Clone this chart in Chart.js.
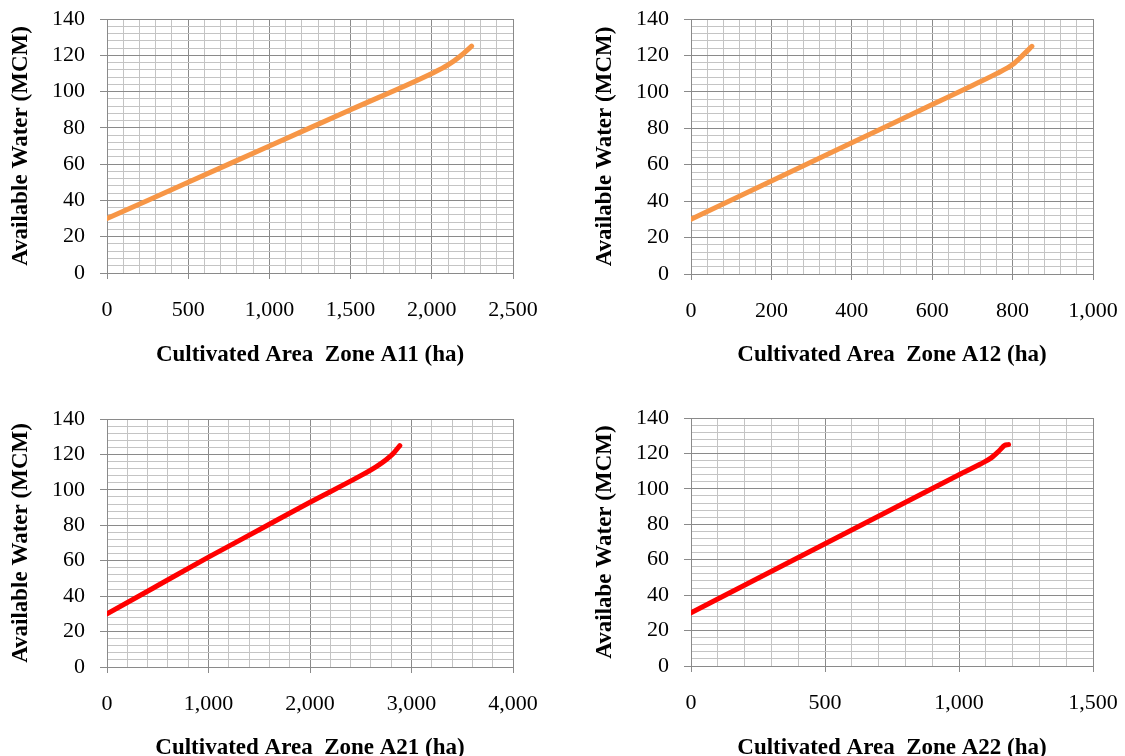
<!DOCTYPE html>
<html>
<head>
<meta charset="utf-8">
<script src="https://cdn.jsdelivr.net/npm/chart.js@4/dist/chart.umd.min.js"></script>
<style>
  html, body { margin: 0; padding: 0; background: #fff; overflow: hidden; }
  body { width: 1125px; height: 756px; position: relative; }
  canvas { position: absolute; }
</style>
</head>
<body>
<canvas id="a11" width="560" height="398" style="left:0;top:-20px"></canvas>
<canvas id="a12" width="560" height="398" style="left:584px;top:-20px"></canvas>
<canvas id="a21" width="560" height="400" style="left:0;top:378px"></canvas>
<canvas id="a22" width="560" height="400" style="left:584px;top:378px"></canvas>
<script>
// values
const a11Area = [0, 500, 1000, 1500, 2000, 2100, 2175, 2245];
const a11Water = [30, 50, 70, 90, 110, 114.7, 119.5, 125];

const a12Area = [0, 200, 400, 600, 700, 760, 800, 825, 848];
const a12Water = [30, 51, 72, 93, 103.5, 110, 115, 120, 125];

const a21Area = [0, 500, 1000, 1500, 2000, 2500, 2650, 2750, 2820, 2885];
const a21Water = [30, 46, 62, 77.5, 93, 108, 113, 117, 120.5, 125];

const a22Area = [0, 250, 500, 750, 1000, 1080, 1120, 1150, 1170, 1185];
const a22Water = [30, 49.5, 69, 88.5, 108, 114, 117.5, 121.5, 124.5, 125];

const ORANGE = "#F79646";
const RED = "#FF0000";
const MAJOR = "#8a8a8a";
const MINOR = "#c4c4c4";
const FONT = "'Liberation Serif', 'Times New Roman', serif";

function isMajor(v, step) {
  return Math.abs(v / step - Math.round(v / step)) < 1e-6;
}

function makeChart(id, area, water, color, opts) {
  const points = area.map((x, i) => ({ x: x, y: water[i] }));
  new Chart(document.getElementById(id), {
    type: "line",
    data: {
      datasets: [
        {
          data: points,
          borderColor: color,
          borderWidth: 5,
          borderCapStyle: "round",
          pointRadius: 0,
          cubicInterpolationMode: "monotone",
          fill: false,
        },
      ],
    },
    options: {
      responsive: false,
      animation: false,
      devicePixelRatio: 1,
      layout: { padding: { top: opts.padTop, right: opts.padRight, left: 0, bottom: 0 } },
      plugins: { legend: { display: false }, tooltip: { enabled: false } },
      scales: {
        x: {
          type: "linear",
          min: 0,
          max: opts.xMax,
          afterFit: (s) => { s.height = opts.xHeight; },
          border: { color: MAJOR, width: 1 },
          grid: {
            color: (c) => (isMajor(c.tick.value, opts.xMajor) ? MAJOR : MINOR),
            tickColor: (c) => (isMajor(c.tick.value, opts.xMajor) ? MAJOR : "rgba(0,0,0,0)"),
            lineWidth: 1,
            tickLength: 6,
          },
          ticks: {
            stepSize: opts.xMinor,
            maxTicksLimit: 1000,
            autoSkip: false,
            maxRotation: 0,
            padding: 18,
            color: "#000",
            font: { family: FONT, size: 22 },
            callback: (v) => (isMajor(v, opts.xMajor) ? v.toLocaleString("en-US") : ""),
          },
          title: {
            display: true,
            text: opts.xTitle,
            color: "#000",
            font: { family: FONT, size: 23, weight: "bold" },
            padding: { top: 0, bottom: opts.xTitlePad },
          },
        },
        y: {
          min: 0,
          max: 140,
          afterFit: (s) => { s.width = 107; },
          border: { color: MAJOR, width: 1 },
          grid: {
            color: (c) => (isMajor(c.tick.value, 20) ? MAJOR : MINOR),
            tickColor: (c) => (isMajor(c.tick.value, 20) ? MAJOR : "rgba(0,0,0,0)"),
            lineWidth: 1,
            tickLength: 7,
          },
          ticks: {
            stepSize: 4,
            maxTicksLimit: 1000,
            autoSkip: false,
            padding: 15,
            color: "#000",
            font: { family: FONT, size: 22 },
            callback: (v) => (isMajor(v, 20) ? String(v) : ""),
          },
          title: {
            display: true,
            text: opts.yTitle,
            color: "#000",
            font: { family: FONT, size: 23, weight: "bold" },
            padding: { top: 7, bottom: 0 },
          },
        },
      },
    },
  });
}

makeChart("a11", a11Area, a11Water, ORANGE, {
  xMax: 2500, xMajor: 500, xMinor: 100,
  padTop: 39, padRight: 47, xHeight: 105, xTitlePad: 9,
  xTitle: "Cultivated Area  Zone A11 (ha)",
  yTitle: "Available Water (MCM)",
});
makeChart("a12", a12Area, a12Water, ORANGE, {
  xMax: 1000, xMajor: 200, xMinor: 40,
  padTop: 39, padRight: 51, xHeight: 104, xTitlePad: 9,
  xTitle: "Cultivated Area  Zone A12 (ha)",
  yTitle: "Available Water (MCM)",
});
makeChart("a21", a21Area, a21Water, RED, {
  xMax: 4000, xMajor: 1000, xMinor: 200,
  padTop: 41, padRight: 47, xHeight: 111, xTitlePad: 16,
  xTitle: "Cultivated Area  Zone A21 (ha)",
  yTitle: "Available Water (MCM)",
});
makeChart("a22", a22Area, a22Water, RED, {
  xMax: 1500, xMajor: 500, xMinor: 100,
  padTop: 40, padRight: 51, xHeight: 112, xTitlePad: 16,
  xTitle: "Cultivated Area  Zone A22 (ha)",
  yTitle: "Availabe Water (MCM)",
});
</script>
</body>
</html>
